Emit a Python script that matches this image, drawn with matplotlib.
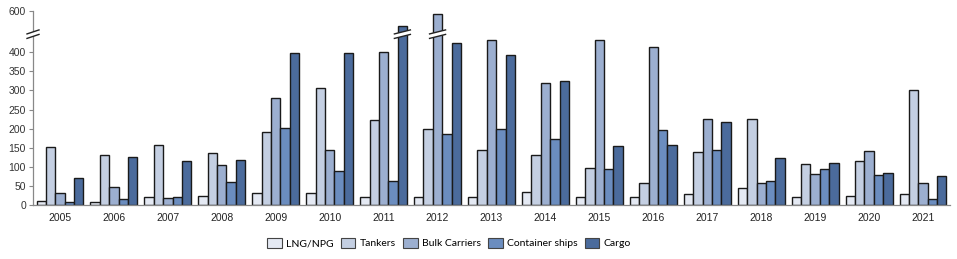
import numpy as np
import matplotlib
matplotlib.use("Agg")
import matplotlib.pyplot as plt
from matplotlib.patches import Polygon
from matplotlib.lines import Line2D

years = ["2005", "2006", "2007", "2008", "2009", "2010", "2011", "2012", "2013",
         "2014", "2015", "2016", "2017", "2018", "2019", "2020", "2021"]
series_names = ["LNG/NPG", "Tankers", "Bulk Carriers", "Container ships", "Cargo"]
lng = [10, 7, 22, 24, 32, 32, 22, 20, 22, 33, 22, 22, 28, 45, 21, 23, 28]
tankers = [151, 130, 158, 137, 191, 307, 222, 198, 145, 131, 97, 58, 140, 225, 108, 115, 301]
bulk = [32, 48, 18, 106, 281, 144, 400, 580, 431, 319, 431, 415, 225, 58, 82, 142, 58]
container = [8, 17, 21, 61, 202, 89, 63, 185, 198, 174, 94, 196, 144, 64, 93, 79, 17]
cargo = [72, 125, 114, 119, 397, 397, 500, 425, 392, 326, 155, 156, 217, 122, 110, 83, 77]
colors = ["#e4e9f3", "#c4cfe2", "#9cafd0", "#6b8dbf", "#4b6b9c"]
yticks = [0, 50, 100, 150, 200, 250, 300, 350, 400, 600]

BREAK = 450.0
K = 0.387

def fwd(v):
    v = np.asarray(v, dtype=float)
    return np.where(v <= BREAK, v, BREAK + (v - BREAK) * K)

def inv(v):
    v = np.asarray(v, dtype=float)
    return np.where(v <= BREAK, v, BREAK + (v - BREAK) / K)

fig = plt.figure(figsize=(9.57, 2.59), dpi=100)
W, H = 957, 259
ax = fig.add_axes([33 / W, 1 - 205 / H, (950 - 33) / W, (205 - 11) / H])
ax.set_yscale("function", functions=(fwd, inv))

all_series = [lng, tankers, bulk, container, cargo]
n = len(years)
x = np.arange(n)
bw = 0.174
edge = "#1a1a1a"
for i, (vals, c, name) in enumerate(zip(all_series, colors, series_names)):
    ax.bar(x + (i - 2) * bw, vals, width=bw, color=c, edgecolor=edge,
           linewidth=1.0, label=name, zorder=2)

ax.set_xlim(-0.5, n - 0.5)
ax.set_ylim(0, 600)
ax.set_yticks(yticks)
ax.set_yticklabels([str(t) for t in yticks], fontsize=7.5, family="Liberation Sans", color="#333333")
ax.set_xticks(x)
ax.set_xticklabels(years, fontsize=7.5, family="Liberation Sans", color="#222222")
ax.tick_params(axis="x", length=0, pad=6)
ax.tick_params(axis="y", length=3, width=0.8, color="#888888", pad=2)
for s in ["top", "right"]:
    ax.spines[s].set_visible(False)
ax.spines["left"].set_color("#888888")
ax.spines["bottom"].set_color("#888888")
ax.spines["left"].set_linewidth(0.9)
ax.spines["bottom"].set_linewidth(0.9)

# break marks
fig.canvas.draw()
def draw_break(xd, half_w):
    px, py = ax.transData.transform((xd, BREAK))
    py = py - 1
    rise = 4.0
    gap = 4.5
    x0, x1 = px - half_w, px + half_w
    y_lo0, y_lo1 = py - gap / 2 - rise / 2, py - gap / 2 + rise / 2
    y_hi0, y_hi1 = py + gap / 2 - rise / 2, py + gap / 2 + rise / 2
    poly = Polygon([[x0 + 1, y_lo0 + 0.3], [x1 - 1, y_lo1 - 0.3], [x1 - 1, y_hi1 - 0.3], [x0 + 1, y_hi0 + 0.3]],
                   closed=True, facecolor="white", edgecolor="none", transform=None, zorder=5)
    fig.add_artist(poly)
    for (a, b) in [((x0, y_lo0), (x1, y_lo1)), ((x0, y_hi0), (x1, y_hi1))]:
        fig.add_artist(Line2D([a[0], b[0]], [a[1], b[1]], color="#222222", linewidth=1.0,
                              transform=None, zorder=6))

draw_break(-0.5, 6)
for i, vals in enumerate(all_series):
    for j, v in enumerate(vals):
        if v > BREAK:
            draw_break(x[j] + (i - 2) * bw, 8)

leg = fig.legend(loc="center", bbox_to_anchor=(449 / W, 1 - 243 / H), ncol=5, frameon=False,
                 handlelength=1.4, handleheight=1.1, handletextpad=0.4,
                 columnspacing=0.7, prop={"family": "Lato", "size": 7.5})
for h in leg.legend_handles:
    h.set_edgecolor("#444444")
    h.set_linewidth(0.8)

fig.savefig("out.png", dpi=100)
